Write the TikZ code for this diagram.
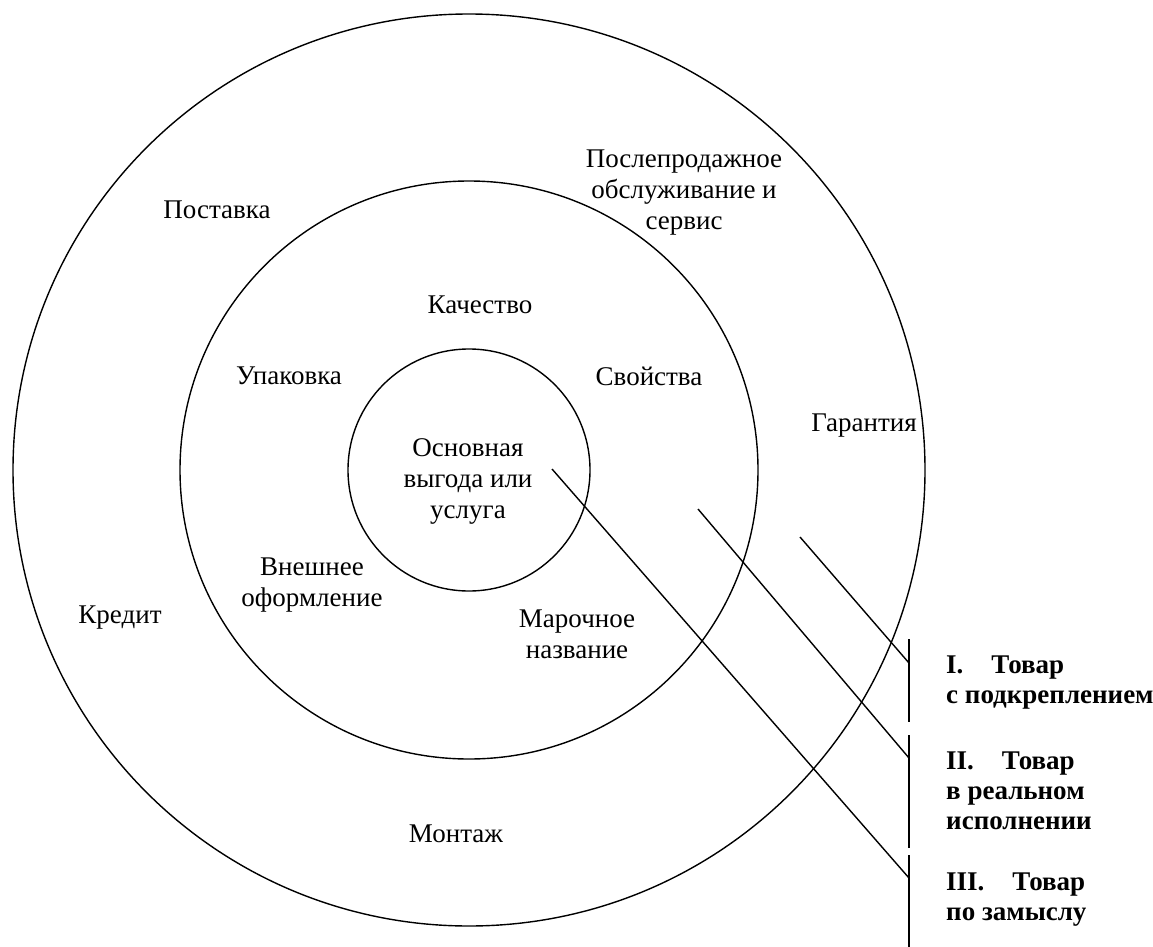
\documentclass[tikz,border=0pt]{standalone}
\usepackage{fontspec}
\setmainfont{Liberation Serif}
\begin{document}
\begin{tikzpicture}[x=1pt,y=-1pt,
  ring/.style={draw,circle,line width=1.4pt,inner sep=0pt},
  lbl/.style={font=\fontsize{27}{31}\selectfont,align=center,inner sep=0pt},
  rlbl/.style={font=\fontsize{27}{31}\selectfont\bfseries,inner sep=0pt,anchor=base west},
  conn/.style={line width=1.4pt}]
\useasboundingbox (0,0) rectangle (1153,947);
% circles
\node[ring,minimum size=912pt] (outer) at (469,470) {};
\node[ring,minimum size=578pt] (middle) at (469,470) {};
\node[ring,minimum size=242pt] (inner) at (469,470) {};
% labels
\node[lbl] (core) at (468,481) {Основная\\выгода или\\услуга};
\node[lbl] (kach) at (480,305) {Качество};
\node[lbl] (upak) at (289,376) {Упаковка};
\node[lbl] (svoj) at (649,376) {Свойства};
\node[lbl] (vnesh) at (312,585) {Внешнее\\оформление};
\node[lbl] (marka) at (577,634) {Марочное\\название};
\node[lbl] (post) at (217,210) {Поставка};
\node[lbl] (servis) at (684,193) {Послепродажное\\обслуживание и\\сервис};
\node[lbl] (garant) at (864,426) {Гарантия};
\node[lbl] (kredit) at (120,618) {Кредит};
\node[lbl] (montazh) at (456,834) {Монтаж};
% right side labels
\node[rlbl] (t1a) at (946,673) {I.\hspace{28pt}Товар};
\node[rlbl] (t1b) at (946,703) {с подкреплением};
\node[rlbl] (t2a) at (946,769) {II.\hspace{28pt}Товар};
\node[rlbl] (t2b) at (946,799) {в реальном};
\node[rlbl] (t2c) at (946,829) {исполнении};
\node[rlbl] (t3a) at (946,890) {III.\hspace{28pt}Товар};
\node[rlbl] (t3b) at (946,920) {по замыслу};
% bars
\coordinate (b1t) at (909,639); \coordinate (b1b) at (909,722);
\coordinate (b2t) at (909,735); \coordinate (b2b) at (909,848);
\coordinate (b3t) at (909,855); \coordinate (b3b) at (909,947);
\draw[conn] (b1t) -- (b1b);
\draw[conn] (b2t) -- (b2b);
\draw[conn] (b3t) -- (b3b);
% connectors
\coordinate (s1) at (800,537); \coordinate (e1) at (909,663);
\coordinate (s2) at (698,509); \coordinate (e2) at (909,758);
\coordinate (s3) at (552,469); \coordinate (e3) at (909,878);
\draw[conn] (s1) -- (e1);
\draw[conn] (s2) -- (e2);
\draw[conn] (s3) -- (e3);
\end{tikzpicture}
\end{document}
